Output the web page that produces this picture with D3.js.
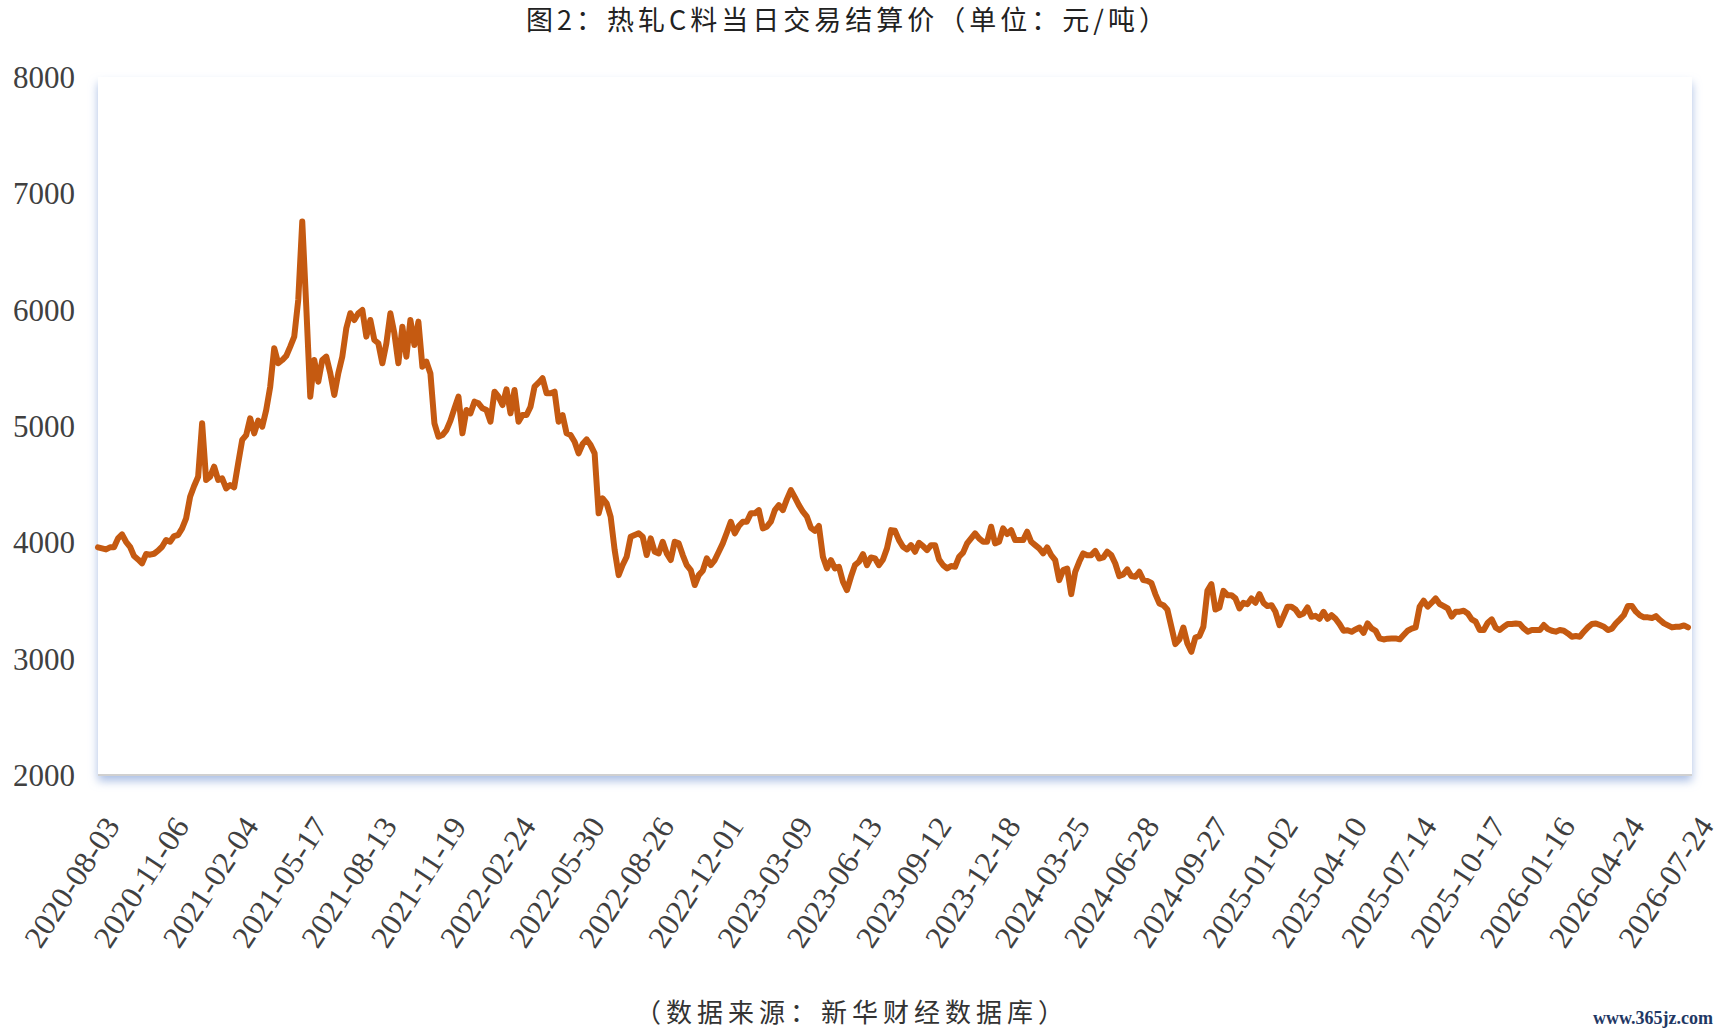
<!DOCTYPE html>
<html>
<head>
<meta charset="utf-8">
<script src="https://cdn.jsdelivr.net/npm/d3@7"></script>
<style>
  body { margin: 0; background: #fff; }
  svg { display: block; }
</style>
</head>
<body>
<svg id="chart" width="1722" height="1034"></svg>
<script>
// Texts
const chartTitle = "图2：热轧C料当日交易结算价（单位：元/吨）";
const sourceNote = "（数据来源：新华财经数据库）";
const watermark = "www.365jz.com";

// Axis ticks
const yTicks = [2000, 3000, 4000, 5000, 6000, 7000, 8000];
const dateLabels = [
  "2020-08-03", "2020-11-06", "2021-02-04", "2021-05-17", "2021-08-13",
  "2021-11-19", "2022-02-24", "2022-05-30", "2022-08-26", "2022-12-01",
  "2023-03-09", "2023-06-13", "2023-09-12", "2023-12-18", "2024-03-25",
  "2024-06-28", "2024-09-27", "2025-01-02", "2025-04-10", "2025-07-14",
  "2025-10-17", "2026-01-16", "2026-04-24", "2026-07-24"
];

// Daily settlement price (yuan/ton), evenly spaced samples
const prices2020_2021 = [
  3957, 3948, 3939, 3957, 3957, 4034, 4068, 4005, 3962, 3882,
  3853, 3819, 3899, 3894, 3902, 3928, 3962, 4020, 4005, 4054,
  4063, 4120, 4206, 4392, 4484, 4564, 5023, 4536, 4564, 4650,
  4536, 4550, 4464, 4493, 4473, 4679, 4880, 4922, 5066, 4937,
  5046, 4994, 5137, 5338, 5668, 5539, 5567, 5602, 5682, 5768,
  6083, 6757, 6026, 5252, 5567, 5381, 5567, 5596, 5453, 5266,
  5453, 5596, 5840, 5969, 5911, 5969, 5997, 5768, 5911, 5739,
  5711, 5539, 5711, 5969, 5797, 5539, 5854, 5596, 5911, 5696,
  5897, 5510
];
const prices2022 = [
  5553, 5452, 5023, 4908, 4922, 4965, 5046, 5152, 5252, 4937,
  5137, 5109, 5209, 5195, 5152, 5137, 5037, 5295, 5252, 5180,
  5315, 5109, 5309, 5037, 5094, 5094, 5166, 5338, 5372, 5410,
  5281, 5281, 5295, 5037, 5094, 4937, 4922, 4865, 4765, 4845,
  4885, 4836, 4765, 4249, 4378, 4335, 4220, 3934, 3718, 3805,
  3876, 4048, 4063, 4077, 4048, 3891, 4034, 3919, 3905, 4005,
  3905, 3848, 4005, 3991, 3891, 3805, 3762, 3633, 3718, 3756,
  3862, 3805, 3848, 3919, 3991, 4083, 4177, 4077, 4140, 4177
];
const prices2023 = [
  4177, 4249, 4249, 4277, 4120, 4134, 4177, 4277, 4320, 4277,
  4369, 4449, 4386, 4320, 4263, 4220, 4125, 4099, 4140, 3876,
  3776, 3847, 3776, 3790, 3661, 3589, 3704, 3804, 3833, 3899,
  3804, 3870, 3862, 3804, 3853, 3948, 4105, 4099, 4019, 3962,
  3939, 3976, 3919, 3996, 3968, 3933, 3976, 3976, 3853, 3804,
  3776, 3796, 3790, 3876, 3911, 3991, 4034, 4077, 4034, 4005,
  4005, 4134, 3991, 4005, 4120, 4071, 4105, 4019, 4019, 4019,
  4091, 4005, 3976, 3948, 3905, 3956, 3890, 3847, 3675, 3761
];
const prices2024 = [
  3775, 3555, 3747, 3833, 3905, 3890, 3890, 3927, 3861, 3870,
  3919, 3890, 3818, 3710, 3724, 3767, 3710, 3704, 3747, 3675,
  3669, 3652, 3555, 3475, 3460, 3423, 3274, 3125, 3165, 3268,
  3131, 3059, 3182, 3194, 3274, 3583, 3641, 3423, 3440, 3583,
  3546, 3546, 3518, 3432, 3480, 3469, 3518, 3480, 3555, 3480,
  3452, 3460, 3403, 3288, 3366, 3446, 3446, 3423, 3374, 3389,
  3440, 3360, 3368, 3343, 3403, 3343, 3374, 3343, 3297, 3240,
  3245, 3231, 3251, 3268, 3222, 3303, 3260, 3240, 3174, 3165
];
const prices2025_2026 = [
  3172, 3174, 3174, 3166, 3203, 3240, 3258, 3269, 3447, 3498,
  3447, 3481, 3518, 3470, 3452, 3432, 3361, 3404, 3404, 3412,
  3389, 3338, 3318, 3246, 3246, 3309, 3338, 3266, 3246, 3275,
  3298, 3298, 3303, 3298, 3260, 3232, 3246, 3246, 3246, 3289,
  3255, 3240, 3232, 3246, 3240, 3217, 3189, 3195, 3189, 3232,
  3269, 3298, 3303, 3289, 3275, 3246, 3258, 3303, 3338, 3375,
  3452, 3452, 3404, 3372, 3355, 3355, 3349, 3366, 3332, 3303,
  3286, 3269, 3275, 3275, 3286, 3269
];
const prices = [].concat(prices2020_2021, prices2022, prices2023, prices2024, prices2025_2026);

// Layout
const svg = d3.select("#chart");
const plot = { left: 98, right: 1692, top: 77, bottom: 775 };

const x = d3.scaleLinear().domain([0, prices.length]).range([plot.left, plot.right]);
const y = d3.scaleLinear().domain([2000, 8000]).range([plot.bottom, plot.top]);

// Shadow for the plot area
const defs = svg.append("defs");
const shadow = defs.append("filter")
  .attr("id", "plot-shadow")
  .attr("x", "-5%").attr("y", "-5%")
  .attr("width", "110%").attr("height", "115%");
shadow.append("feDropShadow")
  .attr("dx", 0).attr("dy", 6)
  .attr("stdDeviation", 5)
  .attr("flood-color", "#8EA9DB")
  .attr("flood-opacity", 0.75);

svg.append("rect")
  .attr("x", plot.left)
  .attr("y", plot.top)
  .attr("width", plot.right - plot.left)
  .attr("height", plot.bottom - plot.top)
  .attr("fill", "#fff")
  .attr("filter", "url(#plot-shadow)");

svg.append("line")
  .attr("x1", plot.left).attr("x2", plot.right)
  .attr("y1", plot.bottom).attr("y2", plot.bottom)
  .attr("stroke", "#d0d0d0")
  .attr("stroke-width", 2);

// Title
svg.append("text")
  .attr("x", 848)
  .attr("y", 30)
  .attr("text-anchor", "middle")
  .attr("font-family", "'Noto Sans CJK SC', sans-serif")
  .attr("font-size", 27)
  .attr("letter-spacing", 4)
  .attr("fill", "#222")
  .text(chartTitle);

// Y axis labels
svg.append("g")
  .selectAll("text")
  .data(yTicks)
  .enter()
  .append("text")
  .attr("x", 75)
  .attr("y", (d) => y(d))
  .attr("dy", "0.35em")
  .attr("text-anchor", "end")
  .attr("font-family", "'Liberation Serif', serif")
  .attr("font-size", 31)
  .attr("fill", "#404040")
  .text((d) => d);

// X axis labels (rotated)
const labelStep = prices.length / (dateLabels.length - 1);
svg.append("g")
  .selectAll("text")
  .data(dateLabels)
  .enter()
  .append("text")
  .attr("transform", (d, i) => `translate(${x(i * labelStep) + 23},826) rotate(-57)`)
  .attr("text-anchor", "end")
  .attr("font-family", "'Liberation Serif', serif")
  .attr("font-size", 31)
  .attr("textLength", 148)
  .attr("lengthAdjust", "spacingAndGlyphs")
  .attr("fill", "#404040")
  .text((d) => d);

// Price line
const line = d3.line()
  .x((d, i) => x(i))
  .y((d) => y(d));

svg.append("path")
  .datum(prices)
  .attr("d", line)
  .attr("fill", "none")
  .attr("stroke", "#C55A11")
  .attr("stroke-width", 6)
  .attr("stroke-linejoin", "round")
  .attr("stroke-linecap", "round");

// Source note
svg.append("text")
  .attr("x", 852)
  .attr("y", 1022)
  .attr("text-anchor", "middle")
  .attr("font-family", "'Noto Sans CJK SC', sans-serif")
  .attr("font-size", 26)
  .attr("letter-spacing", 5)
  .attr("fill", "#333")
  .text(sourceNote);

// Watermark
svg.append("text")
  .attr("x", 1713)
  .attr("y", 1024)
  .attr("text-anchor", "end")
  .attr("font-family", "'Liberation Serif', serif")
  .attr("font-size", 18)
  .attr("font-weight", "bold")
  .attr("fill", "#1F3864")
  .text(watermark);
</script>
</body>
</html>
